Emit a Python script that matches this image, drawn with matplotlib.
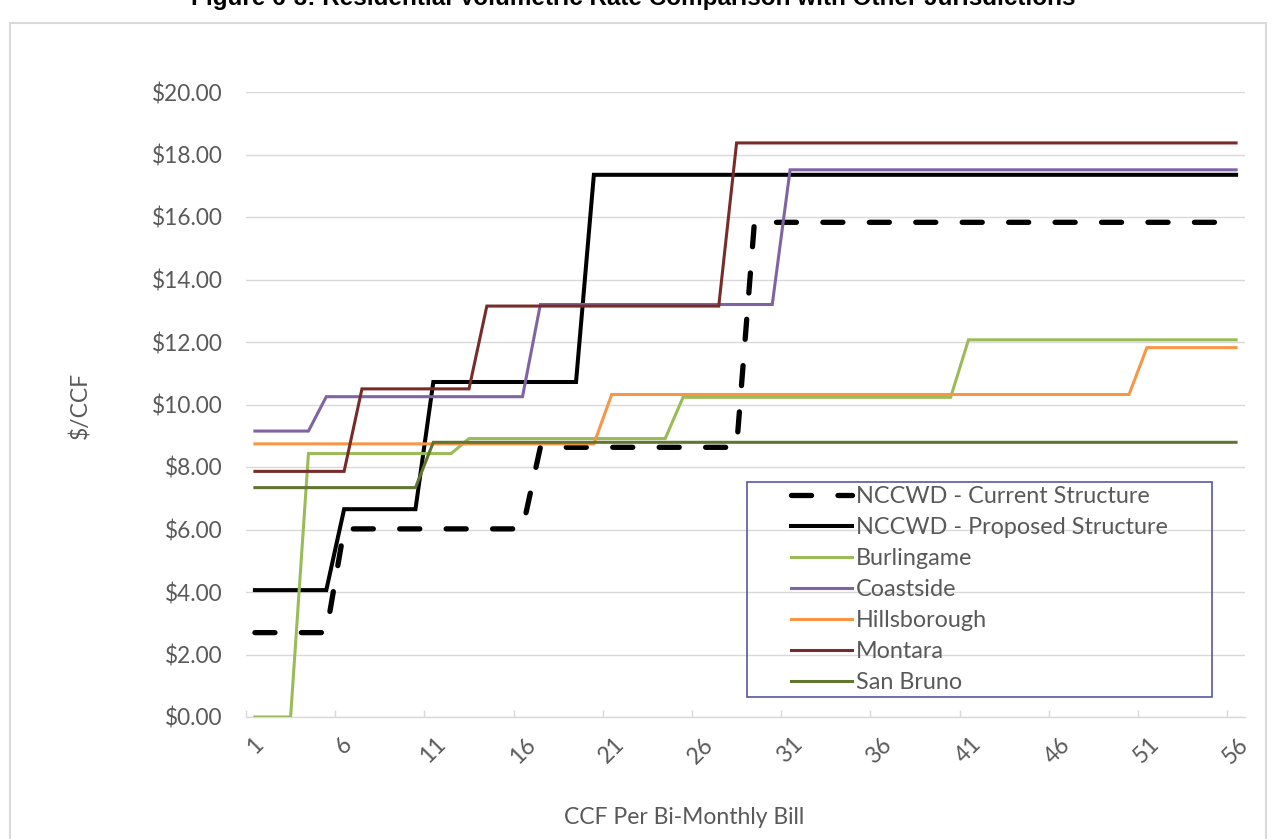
import numpy as np
import matplotlib.pyplot as plt
from matplotlib.patches import Rectangle

# -------------------------------
# Tiered rates ($/CCF) and tier widths (CCF)
# -------------------------------
ccf = np.arange(1, 57)

current_rates = [2.70, 6.02, 8.63, 15.83]
current_tiers = [5, 11, 12, 28]

proposed_rates = [4.06, 6.65, 10.72, 17.35]
proposed_tiers = [5, 5, 9, 37]

burlingame_rates = [0.00, 8.43, 8.91, 10.23, 12.07]
burlingame_tiers = [3, 9, 12, 16, 16]

coastside_rates = [9.15, 10.25, 13.20, 17.51]
coastside_tiers = [4, 12, 14, 26]

hillsborough_rates = [8.74, 10.32, 11.82]
hillsborough_tiers = [20, 30, 6]

montara_rates = [7.86, 10.50, 13.15, 18.37]
montara_tiers = [6, 7, 14, 29]

sanbruno_rates = [7.34, 8.79]
sanbruno_tiers = [10, 46]

series_names = ["NCCWD - Current Structure", "NCCWD - Proposed Structure",
                "Burlingame", "Coastside", "Hillsborough", "Montara", "San Bruno"]
series_colors = ["black", "black", "#9BBB59", "#8064A2", "#F79646", "#772C2A", "#5F7530"]

x_ticklabels = [str(v) for v in range(1, 57, 5)]
y_ticks = np.arange(0, 21, 2)

rates = [current_rates, proposed_rates, burlingame_rates, coastside_rates,
         hillsborough_rates, montara_rates, sanbruno_rates]
tiers = [current_tiers, proposed_tiers, burlingame_tiers, coastside_tiers,
         hillsborough_tiers, montara_tiers, sanbruno_tiers]

plt.rcParams['font.family'] = ['Lato', 'DejaVu Sans']
grey = "#595959"

W, H = 1275, 839
fig = plt.figure(figsize=(W / 100, H / 100), dpi=100)

# outer chart border, running off the bottom of the page
fig.patches.append(Rectangle((10 / W, -0.05), 1256 / W, 1.05 - 23 / H,
                             transform=fig.transFigure, fill=False,
                             edgecolor="#D9D9D9", lw=1.5))

fig.text(633 / W, 1 - 5 / H,
         "Figure 6-3: Residential Volumetric Rate Comparison with Other Jurisdictions",
         ha="center", va="baseline", fontsize=17.5, fontweight="bold",
         family=["Liberation Sans", "DejaVu Sans"])

ax = fig.add_axes([246 / W, 1 - 717 / H, 999 / W, 625 / H])

handles = []
for i, (name, col) in enumerate(zip(series_names, series_colors)):
    y = np.repeat(rates[i], tiers[i])
    if i == 0:
        ln, = ax.plot(ccf, y, color=col, lw=3.8, linestyle=(0, (3.8, 5)),
                      dash_capstyle="round", solid_joinstyle="miter")
    elif i == 1:
        ln, = ax.plot(ccf, y, color=col, lw=2.9, solid_joinstyle="miter")
    else:
        ln, = ax.plot(ccf, y, color=col, lw=2.2, solid_joinstyle="miter")
    handles.append(ln)

ax.set_xlim(0.5, 56.5)
ax.set_ylim(0, 20)
ax.set_yticks(y_ticks)
ax.set_yticklabels([f"${v:.2f}" for v in y_ticks])
ax.set_xticks(range(1, 57, 5))
ax.set_xticklabels(x_ticklabels, rotation=45, ha="center")
ax.set_xticks(np.arange(0.5, 57, 5), minor=True)

ax.tick_params(axis="y", length=0, pad=17, labelsize=16.3, labelcolor=grey)
ax.tick_params(axis="x", which="major", length=0, pad=12, labelsize=16.5, labelcolor=grey)
ax.tick_params(axis="x", which="minor", direction="in", length=5, width=1, color="#D9D9D9")

ax.grid(axis="y", color="#D9D9D9", lw=1)
ax.set_axisbelow(True)
for s in ["top", "right", "left"]:
    ax.spines[s].set_visible(False)
ax.spines["bottom"].set_color("#D9D9D9")
ax.spines["bottom"].set_linewidth(1)
ax.spines["bottom"].set_zorder(0.5)

fig.text(80 / W, 1 - 405 / H, "$/CCF", rotation=90, ha="center", va="center",
         fontsize=16.5, color=grey)
fig.text(684 / W, 1 - 818 / H, "CCF Per Bi-Monthly Bill", ha="center", va="center",
         fontsize=16.5, color=grey)

# legend box
fig.patches.append(Rectangle((747 / W, 1 - 697 / H), 465 / W, 215 / H,
                             transform=fig.transFigure, fill=False,
                             edgecolor="#5557A3", lw=1.2, zorder=5))
fig.legend(handles, series_names, loc="upper left",
           bbox_to_anchor=(791 / W, 1 - 486 / H), bbox_transform=fig.transFigure,
           frameon=False, borderpad=0, borderaxespad=0, handlelength=2.6,
           handletextpad=0.2, labelspacing=0.43, fontsize=16.8, labelcolor=grey)

fig.savefig("out.png", dpi=100)
